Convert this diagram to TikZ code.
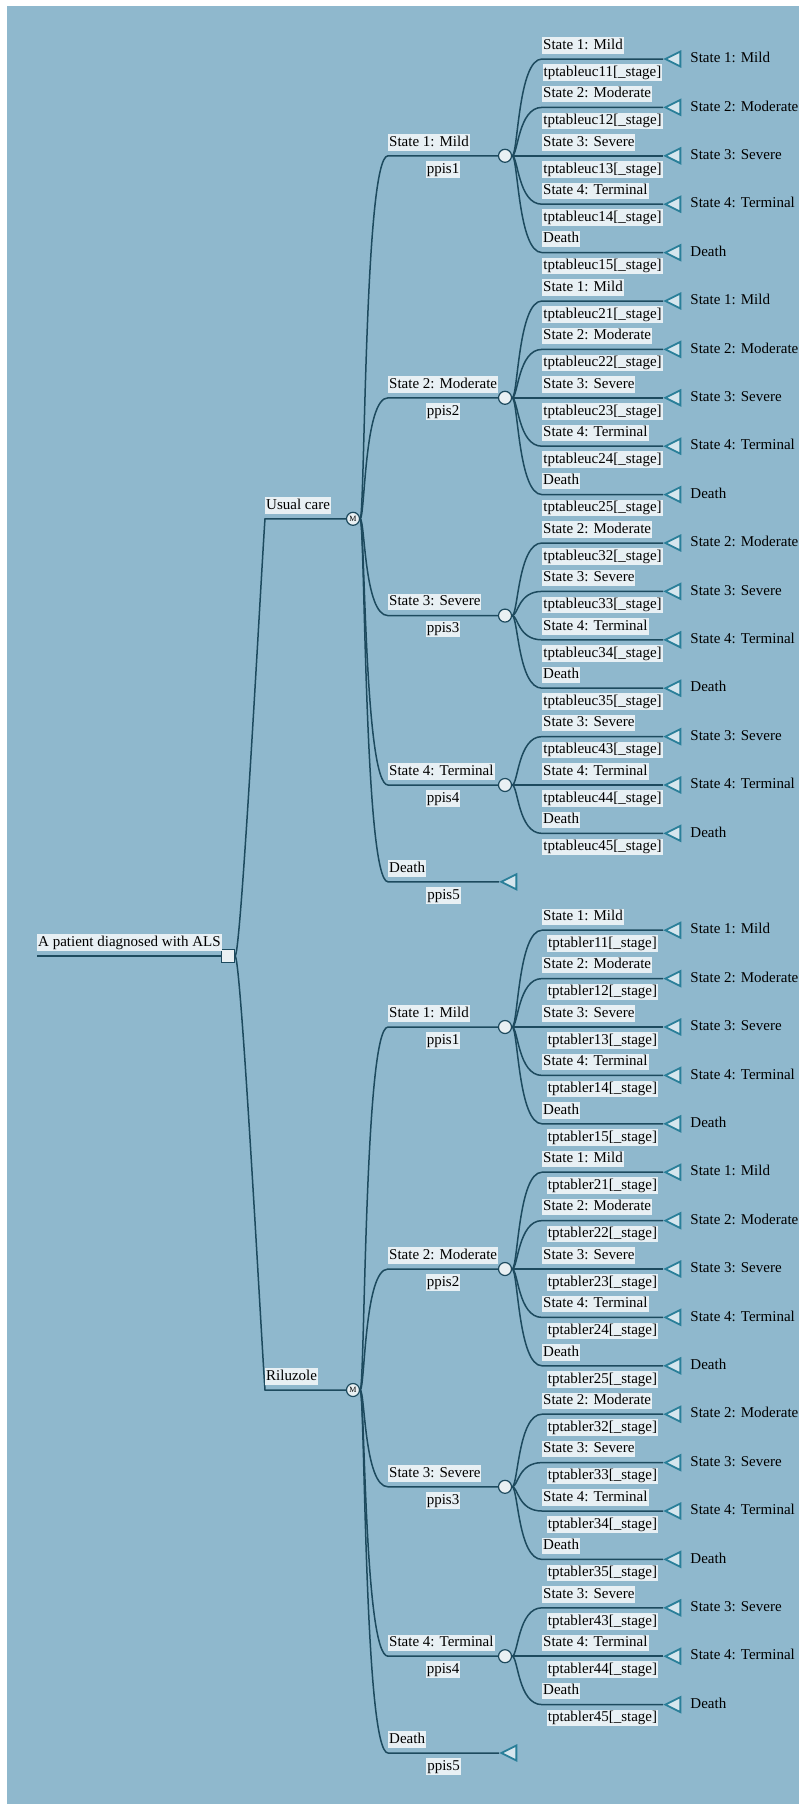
\documentclass[tikz,border=0pt]{standalone}
\usepackage{fontspec}
\setmainfont{Liberation Serif}
\usetikzlibrary{shapes.geometric}
\usetikzlibrary{positioning}

\definecolor{treebg}{HTML}{8FB8CD}
\definecolor{branchline}{HTML}{1D4A5E}
\definecolor{labelbg}{HTML}{E8F0F4}
\definecolor{termline}{HTML}{2A7F99}
\definecolor{termfill}{HTML}{D5E6EE}
\definecolor{nodefill}{HTML}{E9F0F3}

\newcommand{\stname}[1]{\ifcase#1\or State 1: Mild\or State 2: Moderate\or State 3: Severe\or State 4: Terminal\or Death\fi}

\tikzset{
    branch/.style={draw=branchline, line width=1.5pt},
    lbl/.style={
        rectangle, fill=labelbg, inner xsep=1pt, inner ysep=1pt,
        text height=11pt, text depth=3.5pt, text=black,
    },
    toplbl/.style={lbl, anchor=south west, yshift=5pt},
    botlbl/.style={lbl, anchor=north, yshift=-5pt},
    endlbl/.style={
        rectangle, anchor=west, inner sep=0pt, xshift=9pt,
        text height=11pt, text depth=3.5pt, text=black,
    },
    chance/.style={
        circle, draw=branchline, fill=nodefill, line width=1.2pt,
        minimum size=13pt, inner sep=0pt,
    },
    markov/.style={chance, font=\fontsize{8}{8}\selectfont},
    decision/.style={
        rectangle, draw=branchline, fill=nodefill, line width=1.2pt,
        minimum size=13pt, inner sep=0pt,
    },
    terminal/.style={
        isosceles triangle, shape border rotate=180,
        isosceles triangle stretches,
        draw=termline, fill=termfill, line width=1.8pt,
        minimum height=15pt, minimum width=15pt, inner sep=0pt,
        anchor=apex,
    },
}

\begin{document}
\begin{tikzpicture}[x=1pt, y=-1pt, font=\fontsize{15}{17}\selectfont]
    \useasboundingbox[fill=white] (0,0) rectangle (799,1804);
    \fill[treebg] (7,6) rectangle (799,1804);

    \coordinate (root) at (37,956);
    \node (dec) at (228,956) [decision] {};
    \draw[branch] (root) -- (dec.west);
    \node (rootlbl) at (root) [toplbl] {A patient diagnosed with ALS};

    \foreach \pre/\arm/\off/\dy in {uc/Usual care/0/40, r/Riluzole/18/-40} {
        \pgfmathsetmacro{\ym}{59+48.4*(\off+9.5)}
        \coordinate (\pre-b) at (265,\ym);
        \node (\pre-m) at (353,\ym) [markov] {M};
        \draw[branch] (dec.east) .. controls +(6,0) and +(-3,\dy) .. (\pre-b) -- (\pre-m);
        \node (\pre-bl) at (\pre-b) [toplbl] {\arm};

        \foreach \cn/\first/\slot in {1/1/0, 2/1/5, 3/2/10, 4/3/14} {
            \pgfmathsetmacro{\yc}{59+48.4*(\off+\slot+(5-\first)/2)}
            \coordinate (\pre-b\cn) at (388,\yc);
            \node (\pre-c\cn) at (505,\yc) [chance] {};
            \draw[branch] (\pre-m.east) .. controls +(5,0) and +(-24,0) .. (\pre-b\cn) -- (\pre-c\cn);
            \node (\pre-bl\cn) at (\pre-b\cn) [toplbl] {\stname{\cn}};
            \node (\pre-pl\cn) at (443,\yc) [botlbl] {ppis\cn};

            \foreach \st in {\first,...,5} {
                \pgfmathsetmacro{\yo}{59+48.4*(\off+\slot+\st-\first)}
                \coordinate (\pre-o\cn\st) at (542,\yo);
                \node (\pre-t\cn\st) at (663,\yo) [terminal] {};
                \draw[branch] (\pre-c\cn.east) .. controls +(6,0) and +(-24,0) .. (\pre-o\cn\st) -- (\pre-t\cn\st.apex);
                \node (\pre-ol\cn\st) at (\pre-o\cn\st) [toplbl] {\stname{\st}};
                \node (\pre-tl\cn\st) at (602.5,\yo) [botlbl] {tptable\pre\cn\st[\_stage]};
                \node (\pre-el\cn\st) at (\pre-t\cn\st.east) [endlbl] {\stname{\st}};
            }
        }

        \pgfmathsetmacro{\yd}{59+48.4*(\off+17)}
        \coordinate (\pre-b5) at (388,\yd);
        \node (\pre-t5) at (499,\yd) [terminal] {};
        \draw[branch] (\pre-m.east) .. controls +(5,0) and +(-24,0) .. (\pre-b5) -- (\pre-t5.apex);
        \node (\pre-bl5) at (\pre-b5) [toplbl] {Death};
        \node (\pre-pl5) at (443.5,\yd) [botlbl] {ppis5};
    }
\end{tikzpicture}
\end{document}
